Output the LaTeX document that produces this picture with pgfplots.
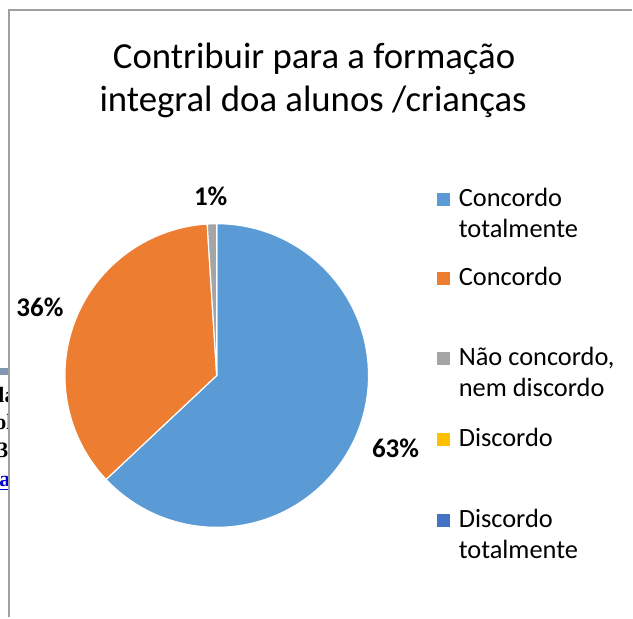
\documentclass[border=0pt]{standalone}
\usepackage{fontspec}
\setmainfont{Carlito}
\newfontfamily\docserif{Liberation Serif}
\usepackage{pgfplots}
\usepackage{pgfplotstable}
\pgfplotsset{compat=1.18}

\definecolor{slice0}{HTML}{5B9BD5}
\definecolor{slice1}{HTML}{ED7D31}
\definecolor{slice2}{HTML}{A5A5A5}
\definecolor{slice3}{HTML}{FFC000}
\definecolor{slice4}{HTML}{4472C4}
\definecolor{framegray}{HTML}{A0A0A0}
\definecolor{barslate}{HTML}{8497B0}

% share of answers (%), label position (px, y up)
\pgfplotstableread{
value lx  ly
63    396 160
36    40  301
1     211 412
0     0   0
0     0   0
}\piedata

\begin{document}
\begin{tikzpicture}
\begin{axis}[hide axis, x=0.5pt, y=0.5pt,
    xmin=0, xmax=633, ymin=0, ymax=618, clip=false]
  \path (axis cs:0,0) rectangle (axis cs:633,618);

  % bits of the page behind the chart
  \fill[barslate] (axis cs:0,243) rectangle (axis cs:9,250);
  \begin{scope}
    \clip (axis cs:0,0) rectangle (axis cs:9,618);
    \node[font=\docserif\bfseries\fontsize{11}{13}\selectfont, anchor=base west, inner sep=0pt] at (axis cs:-2,215) {la};
    \node[font=\docserif\bfseries\fontsize{11}{13}\selectfont, anchor=base west, inner sep=0pt] at (axis cs:-5,188) {ol};
    \node[font=\docserif\bfseries\fontsize{11}{13}\selectfont, anchor=base west, inner sep=0pt] at (axis cs:-3,160) {3};
    \node[font=\docserif\bfseries\fontsize{11}{13}\selectfont, anchor=base west, inner sep=0pt, blue!80!black] at (axis cs:-1,131) {a};
    \draw[blue!80!black, line width=0.5pt] (axis cs:0,128) -- (axis cs:9,128);
  \end{scope}

  % chart frame
  \draw[framegray, line width=0.8pt] (axis cs:9,0) -- (axis cs:9,608) -- (axis cs:633,608);

  % title
  \node[font=\fontsize{18.4}{21}\selectfont, anchor=base, inner sep=0pt] at (axis cs:314.5,549) {Contribuir para a formação};
  \node[font=\fontsize{18.4}{21}\selectfont, anchor=base, inner sep=0pt] at (axis cs:313.5,506) {integral doa alunos /crianças};

  % pie slices, clockwise from 12 o'clock
  \pgfplotsextra{%
    \xdef\acur{90}%
    \foreach \sidx in {0,...,4}{%
      \pgfplotstablegetelem{\sidx}{value}\of\piedata
      \let\pval\pgfplotsretval
      \pgfmathsetmacro\aend{\acur-3.6*\pval}%
      \ifdim\pval pt>0pt
        \fill[fill=slice\sidx, draw=white, line width=0.6pt]
          (axis cs:217,242) -- (axis cs:{217+152*cos(\acur)},{242+152*sin(\acur)})
          arc[start angle=\acur, end angle=\aend, radius=76pt] -- cycle;
        \pgfplotstablegetelem{\sidx}{lx}\of\piedata \let\plx\pgfplotsretval
        \pgfplotstablegetelem{\sidx}{ly}\of\piedata \let\ply\pgfplotsretval
        \node[font=\bfseries\fontsize{13.5}{15}\selectfont, anchor=base, inner sep=0pt]
          at (axis cs:\plx,\ply) {\pval\%};
      \fi
      \xdef\acur{\aend}%
    }%
    % legend keys
    \foreach \sidx/\yy in {0/418, 1/339, 2/259, 3/178, 4/97}{%
      \fill[slice\sidx] (axis cs:438,\yy-6.5) rectangle (axis cs:451,\yy+6.5);
    }%
  }

  % legend text
  \begin{scope}[every node/.style={font=\fontsize{13.2}{15.8}\selectfont, anchor=base west, inner sep=0pt}]
    \node at (axis cs:459,411) {Concordo};
    \node at (axis cs:459,380) {totalmente};
    \node at (axis cs:459,332) {Concordo};
    \node at (axis cs:459,252) {Não concordo,};
    \node at (axis cs:459,221) {nem discordo};
    \node at (axis cs:459,171) {Discordo};
    \node at (axis cs:459,90) {Discordo};
    \node at (axis cs:459,59) {totalmente};
  \end{scope}
\end{axis}
\end{tikzpicture}
\end{document}
